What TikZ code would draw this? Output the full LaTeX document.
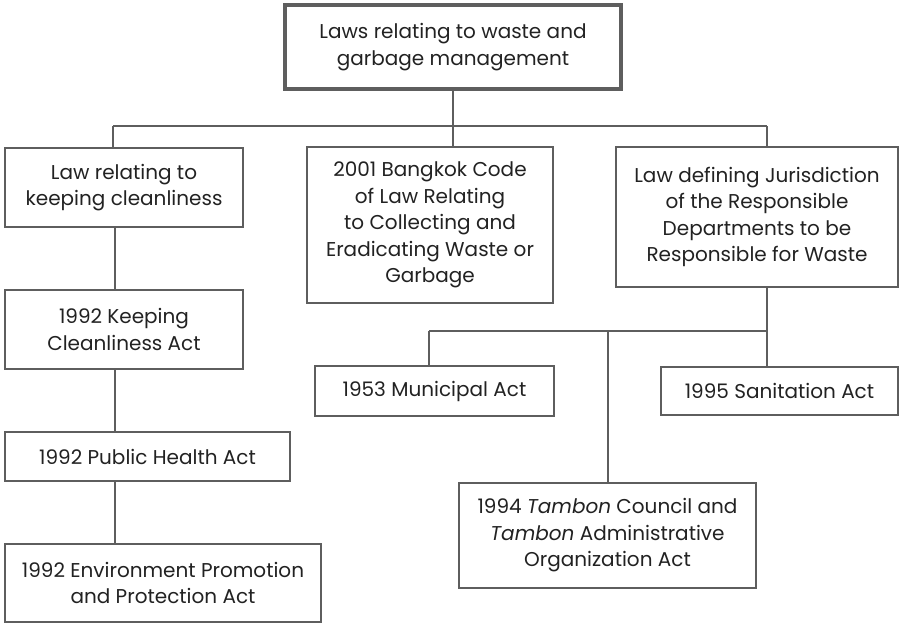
\documentclass[tikz,border=0pt]{standalone}
\usepackage{fontspec}
\setmainfont{Poppins}
\definecolor{boxline}{HTML}{5E5E5E}
\definecolor{boxtext}{HTML}{222222}
\tikzset{
  lawbox/.style={draw=boxline, line width=2pt, fill=white, text=boxtext,
    inner sep=0pt, align=center, font=\fontsize{20}{26.5}\selectfont},
  topbox/.style={lawbox, line width=4.5pt},
  link/.style={draw=boxline, line width=2pt}
}
\begin{document}
\begin{tikzpicture}[x=1pt, y=-1pt]
\useasboundingbox (0,0) rectangle (900,624);

% Boxes (sizes in pixels of the original page)
\node[topbox, minimum width=336, minimum height=84] (top) at (453,47)
  {Laws relating to waste and\\garbage management};
\node[lawbox, minimum width=238, minimum height=79] (clean) at (124,187.5)
  {Law relating to\\keeping cleanliness};
\node[lawbox, minimum width=246, minimum height=156] (bangkok) at (430,225)
  {2001 Bangkok Code\\of Law Relating\\to Collecting and\\Eradicating Waste or\\Garbage};
\node[lawbox, minimum width=282, minimum height=140] (juris) at (757,217)
  {Law defining Jurisdiction\\of the Responsible\\Departments to be\\Responsible for Waste};
\node[lawbox, minimum width=238, minimum height=79] (keep) at (124,329.5)
  {1992 Keeping\\Cleanliness Act};
\node[lawbox, minimum width=285, minimum height=49] (health) at (147.5,456.5)
  {1992 Public Health Act};
\node[lawbox, minimum width=316, minimum height=78] (envir) at (163,583)
  {1992 Environment Promotion\\and Protection Act};
\node[lawbox, minimum width=239, minimum height=50] (munic) at (434.5,391)
  {1953 Municipal Act};
\node[lawbox, minimum width=237, minimum height=48] (sanit) at (779.5,391)
  {1995 Sanitation Act};
\node[lawbox, minimum width=297, minimum height=105] (tambon) at (607.5,535.5)
  {1994 \textit{Tambon} Council and\\\textit{Tambon} Administrative\\Organization Act};

% Bus lines
\coordinate (busL) at (113,126);
\coordinate (busR) at (767,126);
\coordinate (subL) at (429,331);
\coordinate (subR) at (767,331);
\coordinate (spine) at (115,0);
\coordinate (tamb) at (608,0);

\draw[link] (top.south) -- (top.south |- busL);
\draw[link] (busL) -- (busR);
\draw[link] (busL) -- (busL |- clean.north);
\draw[link] (top.south |- busL) -- (top.south |- bangkok.north);
\draw[link] (busR) -- (busR |- juris.north);

% Left column
\draw[link] (spine |- clean.south) -- (spine |- keep.north);
\draw[link] (spine |- keep.south) -- (spine |- health.north);
\draw[link] (spine |- health.south) -- (spine |- envir.north);

% Right column
\draw[link] (subR |- juris.south) -- (subR);
\draw[link] (subL) -- (subR);
\draw[link] (subL) -- (subL |- munic.north);
\draw[link] (subR) -- (subR |- sanit.north);
\draw[link] (tamb |- subL) -- (tamb |- tambon.north);
\end{tikzpicture}
\end{document}
